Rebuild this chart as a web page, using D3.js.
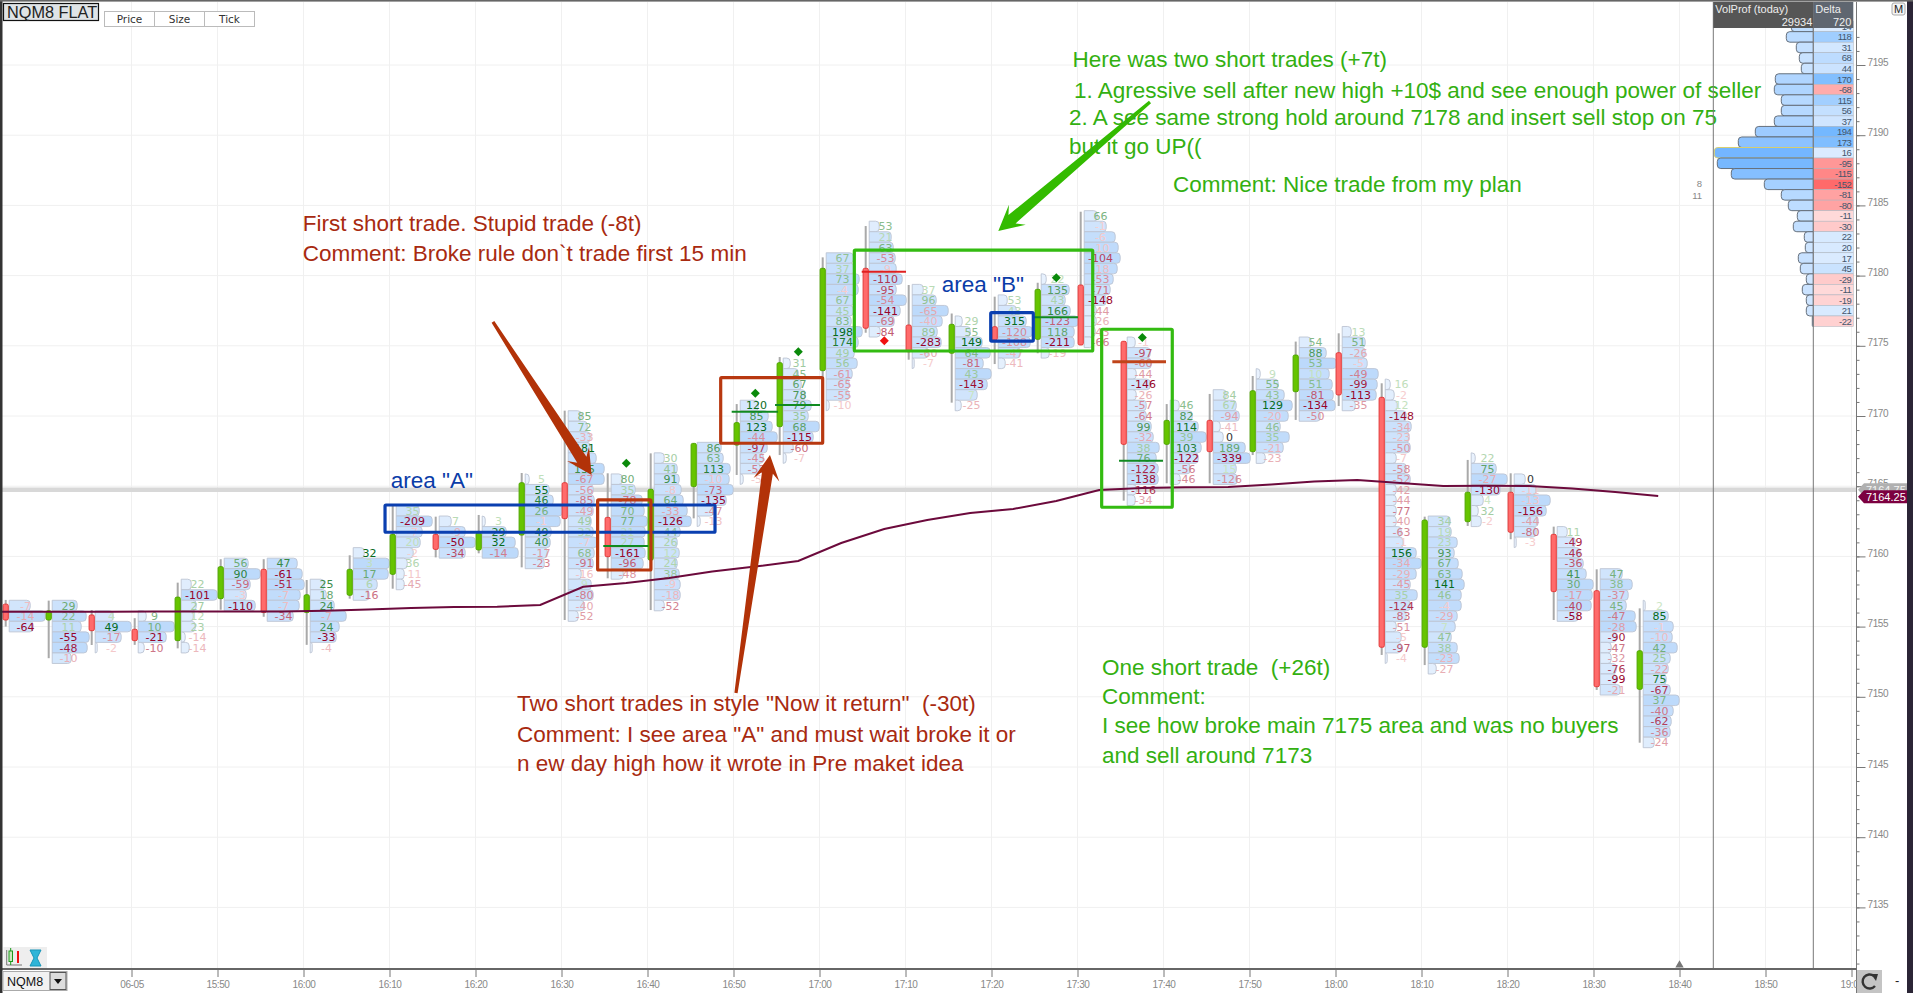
<!DOCTYPE html>
<html>
<head>
<meta charset="utf-8">
<title>NQM8 footprint</title>
<script src="https://cdn.jsdelivr.net/npm/d3@7/dist/d3.min.js"></script>
<style>
  html, body { margin: 0; padding: 0; background: #fff; overflow: hidden; }
  svg { display: block; font-family: "Liberation Sans", Arial, sans-serif; }
  .cell { font-family: "DejaVu Sans", sans-serif; font-size: 11px; text-anchor: middle; }
  .note { font-size: 22.5px; white-space: pre; }
  .scale text { font-family: "Liberation Sans", sans-serif; font-size: 10px; letter-spacing: -0.4px; fill: #888; }
</style>
</head>
<body>
<svg id="chart" width="1913" height="993"></svg>
<script>
/* <!-- Bars: one per five minutes --> */
const barTimes = ["15:25","15:30","15:35","15:40","15:45","15:50","15:55","16:00","16:05","16:10","16:15","16:20","16:25",
  "16:30","16:35","16:40","16:45","16:50","16:55","17:00","17:05","17:10","17:15","17:20","17:25","17:30","17:35","17:40",
  "17:45","17:50","17:55","18:00","18:05","18:10","18:15","18:20","18:25","18:30","18:35"];
const opens = [7156.6,7155.47,7155.83,7154.81,7154,7156.99,7159.08,7156,7157.23,7158.72,7161.57,7160.46,7161.52,
  7165.25,7162.78,7159.74,7164.97,7167.93,7169.24,7173.23,7180.52,7176.48,7174.47,7176.36,7175.46,7179.33,7175.32,7167.98,
  7169.69,7167.46,7171.73,7174.51,7171.33,7153.53,7162.47,7164.57,7161.57,7157.56,7150.53];
const closes = [7155.47,7156.13,7154.71,7154,7157.1,7159.27,7156,7157.27,7159.08,7161.57,7160.5,7161.69,7165.25,
  7162.69,7159.98,7164.78,7168.05,7169.53,7173.8,7180.52,7176.25,7174.58,7176.53,7175.41,7179.02,7175.06,7167.98,7169.69,
  7167.46,7171.8,7174.34,7171.5,7153.53,7162.59,7164.57,7161.72,7157.49,7150.72,7153.28];
const highs = [7156.9,7156.85,7156.18,7155.6,7158.13,7159.8,7159.8,7158.32,7160.08,7163.59,7162.83,7162.95,7165.94,
  7170.38,7165.92,7167.34,7168.05,7170.85,7174.2,7181.3,7183.53,7179.33,7177.3,7178.5,7179.49,7184.55,7175.32,7170.85,
  7171.57,7172.85,7175.3,7175.89,7172.33,7162.83,7166.87,7165.92,7162.12,7159.08,7156.3];
const lows = [7155,7152.75,7153.69,7153.7,7153.45,7156.2,7155.7,7153.7,7156.99,7157.7,7159.93,7160.22,7159.22,
  7155.47,7158.44,7156.18,7162.71,7165.8,7167.22,7172.56,7175.93,7174.01,7170.95,7173.7,7174.47,7175.06,7163.97,7165.21,
  7165.21,7167.22,7169.72,7170.71,7152.98,7152.26,7162.17,7161.22,7155.47,7150.49,7146.73];

/* <!-- Footprint cells: price of the top row, then delta and size per row --> */
const topRows = [7156.5,7156.5,7155.75,7155.75,7158,7159.5,7159.5,7158,7160.25,7163.25,7162.5,7162.5,7165.5,
  7170,7165.5,7167,7167.75,7170.75,7173.75,7181.25,7183.5,7179,7176.75,7178.25,7179.75,7184.25,7175.25,7170.75,
  7171.5,7173,7175.25,7176,7172.25,7162.5,7167,7165.5,7161.75,7158.75,7156.5];
const cellDeltas = [
  [-7,-14,-64],
  [29,22,11,-55,-48,-10],
  [4,49,-17,-2],
  [9,10,-21,-10],
  [22,-101,27,12,23,-14,-14],
  [56,90,-59,-3,-110],
  [47,-61,-51,-7,-7,-34],
  [25,18,24,-7,24,-33,-4],
  [32,3,17,6,-16],
  [35,-209,-7,20,-2,36,-11,-45],
  [7,-9,-50,-34],
  [3,29,32,-14],
  [5,55,46,26,-1,49,40,-17,-23],
  [85,72,-33,181,-8,135,-67,-56,-85,-49,49,32,-7,68,-91,-16,9,-80,-40,-52],
  [80,35,-78,70,77,21,27,-161,-96,-48],
  [30,41,91,-8,64,-33,-126,44,26,12,24,38,-9,-18,-52],
  [86,63,113,-10,-73,-135,-47,-13],
  [120,85,123,-44,-97,-45,-53,-5],
  [31,45,67,78,79,35,68,-115,-60,-7],
  [67,37,73,-4,67,45,83,198,174,49,56,-61,-65,-55,-10],
  [53,21,63,-53,-9,-110,-95,-54,-141,-69,-84],
  [37,96,-65,-40,89,-283,-60,-7],
  [29,55,149,64,-81,43,-143,7,-25],
  [53,43,315,-120,-108,-47,-41],
  [22,135,43,166,-123,118,-211,-19],
  [66,-1,-6,-10,-104,-18,-53,-71,-148,-44,-26,-43,-66],
  [-1,-97,-60,-44,-146,-26,-57,-64,99,-32,38,76,-122,-138,-116,-34],
  [46,82,114,39,103,-122,-56,-46],
  [84,67,-94,-41,0,189,-339,15,-126],
  [9,55,43,129,-20,46,35,-21,-23],
  [54,88,53,10,51,-81,-134,-50],
  [13,51,-26,-5,-49,-99,-113,-35],
  [16,-2,12,-148,-34,-23,-50,-7,-58,-52,-42,-44,-77,-40,-63,-1,156,-34,-29,-45,35,-124,-83,-51,-5,-97,-4],
  [34,19,23,93,67,63,141,46,-4,-29,7,47,38,-23,-27],
  [22,75,-27,-130,4,32,-2],
  [0,-11,-13,-156,-44,-80,-3],
  [11,-49,-46,-36,41,30,-17,-40,-58],
  [47,38,-37,45,-47,-28,-90,-47,-32,-76,-99,-21],
  [2,85,-1,-10,42,25,-22,75,-67,37,-40,-62,-36,-24]
];
const cellSizes = [
  [21,36,24],
  [25,34,29,37,35,19],
  [18,36,26,2],
  [8,36,28,6],
  [10,36,15,12,14,4,8],
  [24,36,26,22,31],
  [30,35,37,33,32,26],
  [14,16,24,36,29,26,2],
  [11,36,35,24,16],
  [23,36,26,24,17,11,8,8],
  [12,26,36,26],
  [3,24,33,36],
  [4,24,28,37,35,26,25,22,19],
  [13,19,22,22,28,36,36,25,26,25,23,25,29,26,25,13,23,25,16,10],
  [11,24,31,33,36,34,33,34,32,12],
  [10,23,25,27,29,33,37,26,23,25,23,25,26,26,10],
  [24,26,33,32,36,29,16,3],
  [18,28,32,37,27,23,20,3],
  [7,15,18,22,28,25,36,30,10,3],
  [27,28,33,32,28,27,25,36,32,28,31,26,23,23,3],
  [10,22,24,26,27,33,27,37,31,25,11],
  [11,24,36,30,25,29,16,2],
  [7,15,27,35,28,36,32,22,6],
  [9,18,28,34,32,22,7],
  [5,28,24,29,37,33,33,8],
  [13,22,31,34,36,33,29,26,22,12,12,11,9],
  [8,23,24,9,23,9,19,19,24,26,32,29,31,31,9,8],
  [9,22,28,36,31,28,20,10],
  [13,23,26,7,10,32,37,23,24],
  [4,22,28,36,32,24,33,27,9],
  [12,27,37,30,33,34,36,21],
  [9,23,23,25,36,35,34,13],
  [5,9,12,21,26,24,25,11,21,25,11,11,11,11,16,18,31,36,31,25,32,25,21,11,16,16,2],
  [22,23,29,26,30,34,36,33,33,29,27,23,29,31,8],
  [4,25,36,29,12,7,10],
  [11,22,36,32,24,22,2],
  [10,18,23,26,29,36,35,34,21],
  [22,32,28,26,35,36,16,11,11,16,16,20],
  [2,25,30,29,34,27,25,23,27,36,30,28,27,11]
];

/* <!-- Session average line --> */
const vwapTimes = ["15:20"].concat(barTimes);
const vwapValues = [7156.06,7156.06,7156.06,7156.06,7156.08,7156.08,7156.08,7156.08,7156.13,7156.22,7156.32,7156.4,7156.42,
  7156.54,7157.84,7158.11,7158.46,7158.92,7159.28,7159.67,7160.95,7161.95,7162.59,7163.09,7163.38,7163.95,7164.73,7164.87,
  7164.92,7164.94,7165.12,7165.33,7165.44,7165.23,7165.01,7165.04,7165.01,7164.84,7164.59,7164.3];

/* <!-- Session profile --> */
const profileTop = 7197.75;
const profileDeltas = [14,118,31,68,44,170,-68,115,56,37,194,173,16,-95,-115,-152,-81,-80,-11,-30,22,20,17,45,-29,-11,-19,21,-22];
const profileSizes = [22,27,17,14,12,38,39,32,32,39,58,75,99,96,82,49,32,25,16,20,9,8,15,13,7,11,7,7,1];
const profileMaxRow = 12;

/* <!-- Ticks --> */
const timeTicks = ["15:40","15:50","16:00","16:10","16:20","16:30","16:40","16:50","17:00","17:10","17:20","17:30","17:40",
  "17:50","18:00","18:10","18:20","18:30","18:40","18:50","19:00"];
const priceLabels = [7195,7190,7185,7180,7175,7170,7165,7160,7155,7150,7145,7140,7135];
const priceMinor = d3.range(7129, 7198);

/* <!-- Annotations, placed by minutes after 16:00 and price --> */
const diamonds = [[14,7166.63,"#0a8a0a"],[17,7171.62,"#0a8a0a"],[18,7174.58,"#0a8a0a"],[20,7175.36,"#f01010"],[24,7179.84,"#0a8a0a"],[26,7175.6,"#0a8a0a"]];
const tradeLines = [
  [34.86,40.09,7160.74,"#108a20",2],[49.79,55.17,7170.31,"#108a20",2],[54.83,60.06,7170.78,"#108a20",2],
  [64.91,70.06,7180.28,"#e02020",2],[84.83,90.06,7177.03,"#108a20",2],[94.05,100.29,7173.87,"#c0441a",3],[94.83,99.94,7166.82,"#108a20",2]
];
const boxes = [
  [9.48,47.85,7163.66,7161.72,"#0a3fb0"],[34.2,40.4,7164.02,7159.03,"#b83810"],[48.51,60.37,7172.73,7168.06,"#b83810"],
  [64.05,91.77,7181.82,7174.63,"#33bb11"],[79.91,84.86,7177.36,7175.34,"#0a3fb0"],[92.81,101.02,7176.18,7163.5,"#33bb11"]
];
const arrows = [
  [22.03,7176.7,33.5,7165.8,"#b23208"],[50.29,7150.27,54.24,7167.22,"#b23208"],[98.43,7192.36,80.79,7183.18,"#33bb00"]
];
const notes = [
  [-0.09,7183.18,"First short trade. Stupid trade (-8t)","#a82a10"],
  [-0.09,7181.06,"Comment: Broke rule don`t trade first 15 min","#a82a10"],
  [10.14,7164.85,"area \"A\"","#0a3ca8"],
  [74.21,7178.85,"area \"B\"","#0a3ca8"],
  [89.42,7194.86,"Here was two short trades (+7t)","#33b011"],
  [89.59,7192.65,"1. Agressive sell after new high +10$ and see enough power of seller","#33b011"],
  [89.01,7190.73,"2. A see same strong hold around 7178 and insert sell stop on 75","#33b011"],
  [89.01,7188.66,"but it go UP((","#33b011"],
  [101.1,7185.95,"Comment: Nice trade from my plan","#33b011"],
  [24.83,7148.99,"Two short trades in style \"Now it return\"  (-30t)","#a82a10"],
  [24.83,7146.78,"Comment: I see area \"A\" and must wait broke it or","#a82a10"],
  [24.83,7144.72,"n ew day high how it wrote in Pre maket idea","#a82a10"],
  [92.85,7151.55,"One short trade  (+26t)","#33b011"],
  [92.85,7149.49,"Comment:","#33b011"],
  [92.85,7147.42,"I see how broke main 7175 area and was no buyers","#33b011"],
  [92.85,7145.28,"and sell around 7173","#33b011"]
];

const lastPrice = 7164.75, markPrice = 7164.25;

/* <!-- Scales --> */
const day = s => { var p = s.split(":"); return new Date(2018, 5, 5, +p[0], +p[1]); };
const t0 = day("16:00");
const xTime = d3.scaleTime().domain([t0, day("19:00")]).range([303.5, 1851.5]);
const yPrice = d3.scaleLinear().domain([7170, 7195]).range([416, 65]);
const xMin = m => xTime(new Date(+t0 + m * 60000));
const rowH = yPrice(7170) - yPrice(7170.75);
const barOffset = 3.2, cellLeft = 3.5, cellCentre = 19.8, markOffset = 18.6, vwapOffset = 18.5;
const chartRight = 1856.5, axisY = 969;
const barX = i => xTime(day(barTimes[i])) + barOffset;

const svg = d3.select("#chart");
svg.append("defs").append("clipPath").attr("id", "plot").append("rect")
  .attr("x", 2).attr("y", 2).attr("width", chartRight - 2).attr("height", axisY - 2);
const plot = svg.append("g").attr("clip-path", "url(#plot)");

/* <!-- Grid --> */
plot.append("g").selectAll("line").data(timeTicks).join("line")
  .attr("x1", d => xTime(day(d))).attr("x2", d => xTime(day(d)))
  .attr("y1", 0).attr("y2", axisY).attr("stroke", "#f0f0f0");
plot.append("g").selectAll("line").data(d3.range(7130, 7200, 5)).join("line")
  .attr("x1", 0).attr("x2", chartRight).attr("y1", d => yPrice(d)).attr("y2", d => yPrice(d)).attr("stroke", "#f0f0f0");
plot.append("line").attr("x1", 0).attr("x2", chartRight)
  .attr("y1", yPrice(lastPrice)).attr("y2", yPrice(lastPrice)).attr("stroke", "#d8d8d8").attr("stroke-width", 4.5);

/* <!-- Rounded on one side only --> */
const rightRound = (x, y, w, h, r) => {
  r = Math.min(r, w);
  return `M${x},${y}H${x + w - r}Q${x + w},${y} ${x + w},${y + r}V${y + h - r}Q${x + w},${y + h} ${x + w - r},${y + h}H${x}Z`;
};
const leftRound = (x, y, w, h, r) => {
  r = Math.min(r, w);
  return `M${x},${y}H${x - w + r}Q${x - w},${y} ${x - w},${y + r}V${y + h - r}Q${x - w},${y + h} ${x - w + r},${y + h}H${x}Z`;
};

/* <!-- Footprint bars --> */
const cellFill = d3.interpolateRgb("#eef5fe", "#bcd9fb");
const greenText = d3.interpolateRgb("#cfe8c8", "#066a1c");
const redText = d3.interpolateRgb("#f7cfcf", "#98042a");

const bars = plot.append("g").selectAll("g").data(barTimes).join("g");
bars.each(function(_, i) {
  var g = d3.select(this), cx = barX(i), sizes = cellSizes[i], deltas = cellDeltas[i];
  var w = d3.scaleLinear().domain([0, 37]).range([0, 37]);
  var strongest = d3.max(deltas, d => Math.abs(d));
  var rowY = k => yPrice(topRows[i] - k * 0.75);

  g.selectAll("path.row").data(sizes).join("path").attr("class", "row")
    .attr("d", (s, k) => rightRound(cx + cellLeft, rowY(k) - rowH / 2, w(s), rowH, 3.5))
    .attr("fill", s => cellFill(s / 37)).attr("stroke", "#bcc4d2").attr("stroke-width", 0.9);

  g.append("rect").attr("x", cx - 1).attr("width", 2)
    .attr("y", yPrice(highs[i])).attr("height", yPrice(lows[i]) - yPrice(highs[i])).attr("fill", "#a9a9a9");

  var up = closes[i] > opens[i];
  g.append("rect").attr("x", cx - 2.6).attr("width", 5.2).attr("rx", 1.5)
    .attr("y", yPrice(Math.max(opens[i], closes[i])))
    .attr("height", Math.abs(yPrice(opens[i]) - yPrice(closes[i])))
    .attr("fill", up ? "#66c400" : "#ff6b6b").attr("stroke", up ? "#4fa600" : "#e23a3a");

  g.selectAll("text").data(deltas).join("text").attr("class", "cell")
    .attr("x", cx + cellCentre).attr("y", (d, k) => rowY(k) + 4)
    .attr("fill", d => d === 0 ? "#333" : (d > 0 ? greenText : redText)(Math.pow(Math.abs(d) / strongest, 1.1)))
    .text(d => d);
});

/* <!-- Average line --> */
plot.append("path").datum(vwapValues)
  .attr("d", d3.line().x((d, i) => xTime(day(vwapTimes[i])) + barOffset + vwapOffset).y(d => yPrice(d)))
  .attr("fill", "none").attr("stroke", "#6c0a3c").attr("stroke-width", 2);

/* <!-- Drawn trades --> */
plot.append("g").selectAll("line").data(tradeLines).join("line")
  .attr("x1", d => xMin(d[0])).attr("x2", d => xMin(d[1])).attr("y1", d => yPrice(d[2])).attr("y2", d => yPrice(d[2]))
  .attr("stroke", d => d[3]).attr("stroke-width", d => d[4]);
plot.append("g").selectAll("rect").data(boxes).join("rect")
  .attr("x", d => xMin(d[0])).attr("y", d => yPrice(d[2]))
  .attr("width", d => xMin(d[1]) - xMin(d[0])).attr("height", d => yPrice(d[3]) - yPrice(d[2]))
  .attr("fill", "none").attr("stroke", d => d[4]).attr("stroke-width", 3.2).attr("rx", 1);
plot.append("g").selectAll("path").data(diamonds).join("path")
  .attr("d", "M0,-4.5L4.5,0L0,4.5L-4.5,0Z")
  .attr("transform", d => `translate(${barX(d[0]) + markOffset},${yPrice(d[1])})`).attr("fill", d => d[2]);

const arrowPath = d => {
  var x1 = xMin(d[0]), y1 = yPrice(d[1]), x2 = xMin(d[2]), y2 = yPrice(d[3]);
  var len = Math.hypot(x2 - x1, y2 - y1), ux = (x2 - x1) / len, uy = (y2 - y1) / len, nx = -uy, ny = ux;
  var pt = (a, b) => `${x1 + ux * a + nx * b},${y1 + uy * a + ny * b}`;
  var neck = len - 18;
  return `M${pt(0, -1.6)}L${pt(neck, -5.5)}L${pt(len - 25, -13)}L${pt(len, 0)}L${pt(len - 25, 13)}L${pt(neck, 5.5)}L${pt(0, 1.6)}Z`;
};
plot.append("g").selectAll("path").data(arrows).join("path").attr("d", arrowPath).attr("fill", d => d[4]);

plot.append("g").selectAll("text").data(notes).join("text").attr("class", "note")
  .attr("x", d => xMin(d[0])).attr("y", d => yPrice(d[1])).attr("fill", d => d[3]).text(d => d[2]);

/* <!-- Profile panel --> */
const panelLeft = 1713.3, panelMid = 1813.3, panelRight = 1853.3;
const profW = d3.scaleLinear().domain([0, 99]).range([0, 99]);
const profFill = d3.interpolateRgb("#d6e9ff", "#74b6ff");
const posFill = d3.interpolateRgb("#e4f0ff", "#74b8ff");
const negFill = d3.interpolateRgb("#ffe2e2", "#ff6a6a");
const profile = svg.append("g");
profile.selectAll("path").data(profileSizes).join("path")
  .attr("d", (s, i) => leftRound(panelMid, yPrice(profileTop - i * 0.75) - rowH / 2, profW(s), rowH, 3.5))
  .attr("fill", s => profFill(s / 99))
  .attr("stroke", (s, i) => i === profileMaxRow ? "#d8cf70" : "#66707c").attr("stroke-width", 1);
profile.selectAll("rect").data(profileDeltas).join("rect")
  .attr("x", panelMid).attr("width", panelRight - panelMid)
  .attr("y", (d, i) => yPrice(profileTop - i * 0.75) - rowH / 2).attr("height", rowH)
  .attr("fill", d => d > 0 ? posFill(d / 194) : negFill(-d / 152)).attr("stroke", "#aab2bc").attr("stroke-width", 0.5);
profile.selectAll("text").data(profileDeltas).join("text")
  .attr("x", panelRight - 2).attr("y", (d, i) => yPrice(profileTop - i * 0.75) + 3.5)
  .attr("text-anchor", "end").attr("font-family", "Liberation Sans").attr("font-size", 9.5).attr("letter-spacing", -0.5)
  .attr("fill", "#44566c").text(d => d);
[panelLeft, panelMid].forEach(x => svg.append("line").attr("x1", x).attr("x2", x).attr("y1", 2).attr("y2", axisY)
  .attr("stroke", "#777"));

svg.append("rect").attr("x", panelLeft).attr("y", 2).attr("width", panelMid - panelLeft).attr("height", 26).attr("fill", "#565656");
svg.append("rect").attr("x", panelMid).attr("y", 2).attr("width", panelRight - panelMid).attr("height", 26).attr("fill", "#5f6670");
const header = [[panelLeft + 2, 12.5, "VolProf (today)", "start"], [panelMid - 1, 26, "29934", "end"], [panelMid + 2, 12.5, "Delta", "start"], [panelRight - 2, 26, "720", "end"]];
svg.append("g").selectAll("text").data(header).join("text")
  .attr("x", d => d[0]).attr("y", d => d[1]).attr("text-anchor", d => d[3])
  .attr("font-family", "Liberation Sans").attr("font-size", 11).attr("fill", "#eee").text(d => d[2]);
svg.append("g").selectAll("text").data([["8", 1702, 187], ["11", 1702, 199]]).join("text")
  .attr("x", d => d[1]).attr("y", d => d[2]).attr("text-anchor", "end")
  .attr("font-family", "Liberation Sans").attr("font-size", 9.5).attr("fill", "#888").text(d => d[0]);

/* <!-- Price axis --> */
const priceAxis = svg.append("g").attr("class", "scale").attr("transform", `translate(${chartRight},0)`);
priceAxis.append("g").call(d3.axisRight(yPrice).tickValues(priceMinor).tickSize(3).tickFormat(""))
  .call(g => g.selectAll("line").attr("stroke", "#777"))
  .call(g => g.select(".domain").remove());
priceAxis.append("g").call(d3.axisRight(yPrice).tickValues(priceLabels).tickSize(9).tickPadding(2).tickFormat(d3.format("d")))
  .call(g => g.selectAll("line").attr("stroke", "#777"))
  .call(g => g.selectAll("text").attr("dy", "0"))
  .call(g => g.select(".domain").remove());
svg.append("line").attr("x1", chartRight).attr("x2", chartRight).attr("y1", 2).attr("y2", axisY + 24).attr("stroke", "#777");

/* <!-- Price tags --> */
const tag = (price, fill, color) => {
  var y = yPrice(price);
  svg.append("path").attr("d", `M1858,${y}L1864,${y - 6.5}H1907V${y + 6.5}H1864Z`).attr("fill", fill);
  svg.append("text").attr("x", 1866).attr("y", y + 4.5).attr("font-family", "Liberation Sans").attr("font-size", 11)
    .attr("fill", color).text(d3.format(".2f")(price));
};
tag(lastPrice, "#b0b0b0", "#f4f4f4");
tag(markPrice, "#7c0040", "#fff");

/* <!-- Time axis --> */
const timeAxis = d3.axisBottom(xTime).tickValues(timeTicks.map(day)).tickSize(8).tickPadding(4)
  .tickFormat(d => d3.timeFormat("%H:%M")(d) === "15:40" ? "06-05" : d3.timeFormat("%H:%M")(d));
svg.append("g").attr("class", "scale").attr("transform", `translate(0,${axisY})`).call(timeAxis)
  .call(g => g.selectAll("line").attr("stroke", "#777"))
  .call(g => g.selectAll("text").attr("fill", "#888"))
  .call(g => g.select(".domain").remove());
svg.append("line").attr("x1", 0).attr("x2", chartRight).attr("y1", axisY).attr("y2", axisY).attr("stroke", "#666").attr("stroke-width", 2);
svg.append("path").attr("d", d3.symbol(d3.symbolTriangle, 30)()).attr("transform", `translate(${xTime(day("18:40"))},${axisY - 4})`).attr("fill", "#777");

/* <!-- Window chrome --> */
svg.append("rect").attr("x", 1857).attr("y", 970).attr("width", 25).attr("height", 23).attr("fill", "#c4c4c4");
svg.append("path").attr("d", "M1874,976A7,7 0 1 0 1875,986").attr("fill", "none").attr("stroke", "#333").attr("stroke-width", 2.4);
svg.append("path").attr("d", "M1871,974L1878,974L1876,981Z").attr("fill", "#333");
svg.append("text").attr("x", 1895).attr("y", 985).attr("font-size", 13).attr("fill", "#222").text("-");
svg.append("rect").attr("x", 1907).attr("y", 0).attr("width", 6).attr("height", 993).attr("fill", "#2b2536");
svg.append("rect").attr("x", 0).attr("y", 0).attr("width", 2.5).attr("height", 993).attr("fill", "#333");
svg.append("rect").attr("x", 0).attr("y", 0).attr("width", 1913).attr("height", 1.6).attr("fill", "#666");
svg.append("rect").attr("x", 1892).attr("y", 3).attr("width", 13).attr("height", 12).attr("rx", 2).attr("fill", "#f4f4f4").attr("stroke", "#aaa");
svg.append("text").attr("x", 1898.5).attr("y", 13).attr("text-anchor", "middle").attr("font-size", 11).attr("fill", "#222").text("M");

svg.append("rect").attr("x", 3.5).attr("y", 3.5).attr("width", 95).attr("height", 17).attr("fill", "#dfe3e6").attr("stroke", "#111").attr("stroke-width", 1.2);
svg.append("text").attr("x", 7).attr("y", 18).attr("font-size", 16.3).attr("fill", "#222").text("NQM8 FLAT");
["Price", "Size", "Tick"].forEach((s, i) => {
  svg.append("rect").attr("x", 104.5 + i * 50).attr("y", 11.5).attr("width", 50).attr("height", 15).attr("fill", "#fff").attr("stroke", "#bbb");
  svg.append("text").attr("x", 129.5 + i * 50).attr("y", 23).attr("text-anchor", "middle").attr("font-family", "DejaVu Sans").attr("font-size", 10.5).attr("fill", "#333").text(s);
});

svg.append("rect").attr("x", 3).attr("y", 971.5).attr("width", 64).attr("height", 19).attr("fill", "#f2f2f2").attr("stroke", "#aaa");
svg.append("rect").attr("x", 50).attr("y", 972.5).attr("width", 16).attr("height", 17).attr("fill", "#ddd").attr("stroke", "#555");
svg.append("path").attr("d", "M54,979H62L58,984Z").attr("fill", "#111");
svg.append("text").attr("x", 7).attr("y", 986).attr("font-size", 12.5).attr("fill", "#111").text("NQM8");

/* <!-- Small tool icons --> */
svg.append("rect").attr("x", 3.5).attr("y", 947).attr("width", 43.5).attr("height", 21).attr("fill", "#eee");
svg.append("path").attr("d", "M6.7,950V965H22").attr("fill", "none").attr("stroke", "#777");
svg.append("path").attr("d", "M10.7,948V965").attr("stroke", "#1a9a1a").attr("fill", "none");
svg.append("rect").attr("x", 9).attr("y", 951).attr("width", 3.5).attr("height", 10.5).attr("fill", "#cde8c0").attr("stroke", "#1a9a1a");
svg.append("path").attr("d", "M18,951V963").attr("stroke", "#ee1111").attr("stroke-width", 2).attr("fill", "none");
svg.append("path").attr("d", "M30,950H41L37,958L41,966H30L34,958Z").attr("fill", "#2fb5d8").attr("stroke", "#1795b8");
</script>
</body>
</html>
